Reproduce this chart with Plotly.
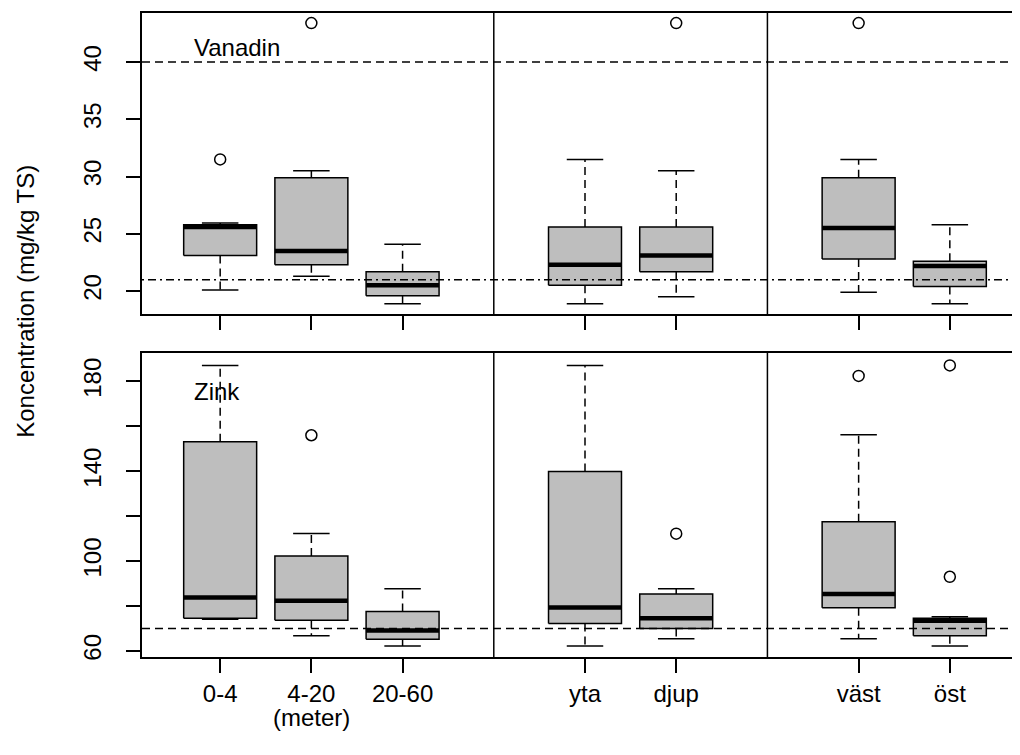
import plotly.graph_objects as go

# ---------------- data ----------------
groups = ["0-4", "4-20", "20-60", "yta", "djup", "väst", "öst"]
tick_labels = ["0-4", "4-20", "20-60", "yta", "djup", "väst", "öst"]
positions = [1, 2, 3, 5, 6, 8, 9]
separators = [4, 7]
unit_label = "(meter)"
unit_label_pos = 2

# Vanadin (mg/kg TS)
v_lower = [20.1, 21.3, 18.9, 18.9, 19.5, 19.9, 18.9]
v_q1 = [23.1, 22.3, 19.6, 20.5, 21.7, 22.8, 20.4]
v_med = [25.6, 23.5, 20.5, 22.3, 23.1, 25.5, 22.2]
v_q3 = [25.8, 29.9, 21.7, 25.6, 25.6, 29.9, 22.6]
v_upper = [25.95, 30.5, 24.1, 31.5, 30.5, 31.5, 25.8]
v_out = [[31.5], [43.4], [], [], [43.4], [43.4], []]
v_ref_dash = 40
v_ref_dashdot = 21.0

# Zink (mg/kg TS)
z_lower = [74.1, 66.8, 62.2, 62.2, 65.4, 65.4, 62.2]
z_q1 = [74.6, 73.7, 65.2, 72.2, 70.0, 79.2, 66.8]
z_med = [83.8, 82.3, 69.1, 79.3, 74.6, 85.3, 73.4]
z_q3 = [153.1, 102.2, 77.5, 139.9, 85.3, 117.5, 74.6]
z_upper = [187.1, 112.3, 87.7, 187.1, 87.7, 156.2, 75.2]
z_out = [[], [156.0], [], [], [112.2], [182.4], [187.1, 93.0]]
z_ref_dash = 70

v_ticks = [20, 25, 30, 35, 40]
z_ticks = [60, 80, 100, 120, 140, 160, 180]
z_ticktext = ["60", "", "100", "", "140", "", "180"]

# ---------------- style ----------------
FONT = "Liberation Sans, Arial, sans-serif"
FS = 24
BOXW = 0.4   # half box width
CAPW = 0.2   # half cap width
FILL = "#BEBEBE"
BLACK = "black"
LW = 1.5
DASH = "8px,5px"
DASHDOT = "2px,4px,8px,4px"

fig = go.Figure()


def add_panel(xa, ya, lower, q1, med, q3, upper, outs):
    wx, wy, cx, cy, mx, my, ox, oy = [], [], [], [], [], [], [], []
    for p, lo, a, m, b, up, o in zip(positions, lower, q1, med, q3, upper, outs):
        wx += [p, p, None, p, p, None]
        wy += [b, up, None, a, lo, None]
        cx += [p - CAPW, p + CAPW, None, p - CAPW, p + CAPW, None]
        cy += [up, up, None, lo, lo, None]
        mx += [p - BOXW, p + BOXW, None]
        my += [m, m, None]
        ox += [p] * len(o)
        oy += list(o)
        fig.add_trace(go.Scatter(
            x=[p - BOXW, p + BOXW, p + BOXW, p - BOXW, p - BOXW],
            y=[a, a, b, b, a], mode="lines", fill="toself",
            fillcolor=FILL, line=dict(color=BLACK, width=LW),
            xaxis=xa, yaxis=ya, showlegend=False, hoverinfo="skip"))
    fig.add_trace(go.Scatter(x=wx, y=wy, mode="lines",
                             line=dict(color=BLACK, width=LW, dash=DASH),
                             xaxis=xa, yaxis=ya, showlegend=False, hoverinfo="skip"))
    fig.add_trace(go.Scatter(x=cx, y=cy, mode="lines",
                             line=dict(color=BLACK, width=LW),
                             xaxis=xa, yaxis=ya, showlegend=False, hoverinfo="skip"))
    fig.add_trace(go.Scatter(x=mx, y=my, mode="lines",
                             line=dict(color=BLACK, width=4.5),
                             xaxis=xa, yaxis=ya, showlegend=False, hoverinfo="skip"))
    fig.add_trace(go.Scatter(x=ox, y=oy, mode="markers",
                             marker=dict(symbol="circle-open", size=11,
                                         color=BLACK, line=dict(width=1.5)),
                             xaxis=xa, yaxis=ya, showlegend=False, hoverinfo="skip"))


add_panel("x2", "y", v_lower, v_q1, v_med, v_q3, v_upper, v_out)
add_panel("x", "y2", z_lower, z_q1, z_med, z_q3, z_upper, z_out)

shapes = []
shapes.append(dict(type="line", xref="x2 domain", yref="y", x0=0, x1=1,
                   y0=v_ref_dash, y1=v_ref_dash,
                   line=dict(color=BLACK, width=LW, dash=DASH)))
shapes.append(dict(type="line", xref="x2 domain", yref="y", x0=0, x1=1,
                   y0=v_ref_dashdot, y1=v_ref_dashdot,
                   line=dict(color=BLACK, width=LW, dash=DASHDOT)))
shapes.append(dict(type="line", xref="x domain", yref="y2", x0=0, x1=1,
                   y0=z_ref_dash, y1=z_ref_dash,
                   line=dict(color=BLACK, width=LW, dash=DASH)))
for s in separators:
    shapes.append(dict(type="line", xref="x2", yref="y domain", x0=s, x1=s,
                       y0=0, y1=1, line=dict(color=BLACK, width=LW)))
    shapes.append(dict(type="line", xref="x", yref="y2 domain", x0=s, x1=s,
                       y0=0, y1=1, line=dict(color=BLACK, width=LW)))

tfont = dict(family=FONT, size=FS, color=BLACK)
annotations = [
    dict(text="Vanadin", xref="x2", yref="y", x=0.69, y=41.3, xanchor="left",
         yanchor="middle", showarrow=False, font=tfont),
    dict(text="Zink", xref="x", yref="y2", x=0.69, y=175.7, xanchor="left",
         yanchor="middle", showarrow=False, font=tfont),
    dict(text=unit_label, xref="x", yref="paper", x=unit_label_pos, y=-0.094,
         xanchor="center", yanchor="middle", showarrow=False, font=tfont),
    dict(text="Koncentration (mg/kg TS)", xref="paper", yref="paper",
         x=-0.131, y=0.553, textangle=-90, xanchor="center", yanchor="middle",
         showarrow=False, font=tfont),
]

axis_common = dict(showgrid=False, zeroline=False, showline=True, linecolor=BLACK,
                   linewidth=LW, ticks="outside", ticklen=14, tickwidth=LW,
                   tickcolor=BLACK, tickfont=tfont)

# page body has an 8px default margin; margins below compensate for it
fig.update_layout(
    width=1020, height=747,
    margin=dict(l=134, r=0, t=5, b=98, autoexpand=False),
    paper_bgcolor="white", plot_bgcolor="white",
    showlegend=False,
    shapes=shapes, annotations=annotations,
    xaxis=dict(axis_common, domain=[0, 1], anchor="y2", range=[0.143, 9.857],
               tickmode="array", tickvals=positions, ticktext=tick_labels,
               mirror=True, ticklabelstandoff=0),
    xaxis2=dict(axis_common, domain=[0, 1], anchor="y", matches="x",
                range=[0.143, 9.857], tickmode="array", tickvals=positions,
                showticklabels=False, mirror=True),
    yaxis=dict(axis_common, domain=[0.5326, 1], anchor="x2", range=[18.0, 44.28],
               tickmode="array", tickvals=v_ticks, tickangle=-90,
               ticklabelstandoff=16),
    yaxis2=dict(axis_common, domain=[0, 0.472], anchor="x", range=[57.3, 192.6],
                tickmode="array", tickvals=z_ticks, ticktext=z_ticktext,
                tickangle=-90, ticklabelstandoff=16),
)

fig.write_html("out.html")
